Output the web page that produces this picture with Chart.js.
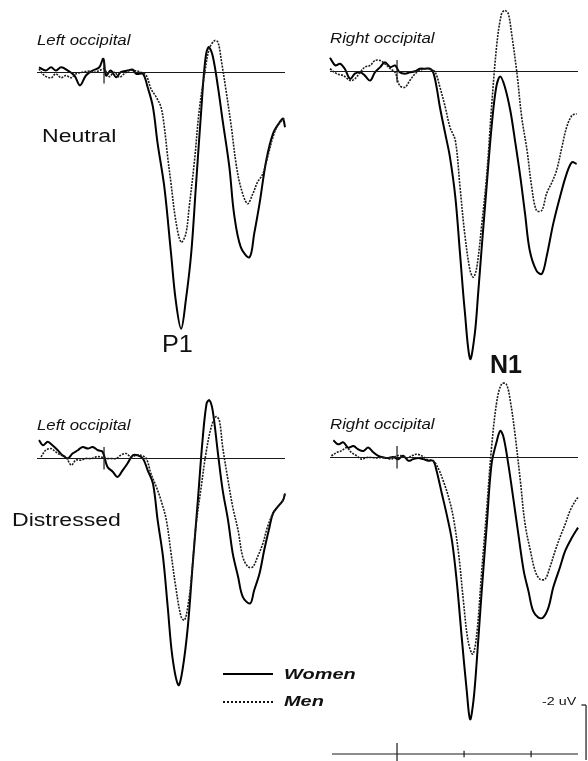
<!DOCTYPE html>
<html>
<head>
<meta charset="utf-8">
<script src="https://cdn.jsdelivr.net/npm/chart.js@4"></script>
<style>
  html, body { margin: 0; padding: 0; background: #fff; }
  body { width: 588px; height: 761px; position: relative; overflow: hidden; font-family: "Liberation Sans", Arial, sans-serif; color: #111; }
  canvas { position: absolute; }
  .lbl { position: absolute; white-space: nowrap; transform-origin: left center; line-height: 1; }
  .site { font-style: italic; font-size: 15px; transform: scaleX(1.12); }
  .cond { font-size: 18px; transform: scaleX(1.28); }
  .leg { font-style: italic; font-weight: bold; font-size: 15px; transform: scaleX(1.33); }
  .swatch { position: absolute; width: 50px; height: 0; }
</style>
</head>
<body>
<canvas id="tl"></canvas>
<canvas id="tr"></canvas>
<canvas id="bl"></canvas>
<canvas id="br"></canvas>
<canvas id="scale"></canvas>

<div class="lbl site" style="left:37px; top:32px;">Left occipital</div>
<div class="lbl site" style="left:330px; top:30px;">Right occipital</div>
<div class="lbl site" style="left:37px; top:417px;">Left occipital</div>
<div class="lbl site" style="left:330px; top:416px;">Right occipital</div>
<div class="lbl cond" style="left:42px; top:127px;">Neutral</div>
<div class="lbl cond" style="left:12px; top:511px;">Distressed</div>
<div class="lbl" style="left:162px; top:333px; font-size:23px; transform:scaleX(1.1);">P1</div>
<div class="lbl" style="left:490px; top:352px; font-size:25px; font-weight:bold;">N1</div>
<div class="swatch" style="left:223px; top:673px; border-top:2px solid #000;"></div>
<div class="swatch" style="left:223px; top:701px; border-top:2px dotted #111;"></div>
<div class="lbl leg" style="left:284px; top:666px;">Women</div>
<div class="lbl leg" style="left:284px; top:693px;">Men</div>
<div class="lbl" style="left:542px; top:696px; font-size:11px; transform:scaleX(1.3);">-2 uV</div>

<script>
// time in ms, amplitude in uV (negative drawn upwards)
const epoch = [-100, 270];
const ampRange = [-3, 11];

// Neutral, left occipital
const tlWomen = [[-97,-0.19],[-87,-0.07],[-79,-0.19],[-72,-0.07],[-64,-0.19],[-54,-0.07],[-44,0.11],[-36,0.47],[-27,0.11],[-17,-0.07],[-7,-0.19],[-1,-0.5],[3,0.11],[10,-0.07],[18,0.17],[25,-0.01],[35,-0.07],[43,-0.1],[48,0.05],[58,0.05],[65,0.53],[73,1.26],[80,2.59],[90,4.17],[100,6.59],[107,8.29],[115,9.32],[122,8.29],[130,6.59],[137,4.17],[145,1.38],[151,-0.44],[156,-0.92],[162,-0.62],[170,0.53],[177,1.75],[187,3.44],[194,5.14],[204,6.35],[217,6.72],[224,5.87],[232,4.77],[242,3.2],[252,2.23],[262,1.81],[267,1.68],[270,1.99]];
const tlMen = [[-97,-0.13],[-89,0.11],[-79,0.19],[-72,0.05],[-64,0.19],[-57,0.11],[-49,0.19],[-42,0.05],[-32,-0.01],[-22,-0.05],[-14,-0.01],[-7,-0.07],[0,-0.13],[8,0.15],[15,-0.01],[23,0.17],[30,0.05],[38,-0.07],[45,-0.07],[55,-0.01],[63,0.11],[70,0.59],[78,0.9],[85,1.26],[90,1.99],[95,3.08],[100,4.05],[107,5.38],[115,6.17],[122,5.87],[127,4.9],[135,3.2],[142,1.38],[150,0.05],[157,-0.86],[165,-1.16],[170,-1.1],[175,-0.44],[182,0.65],[190,1.99],[197,3.32],[204,4.17],[214,4.77],[222,4.41],[229,3.99],[237,3.68],[244,3.08],[252,2.35],[259,1.93],[269,1.65]];

// Neutral, right occipital
const trWomen = [[-100,-0.5],[-92,-0.22],[-85,-0.28],[-78,-0.1],[-70,0.27],[-63,0.08],[-55,0.03],[-48,0.15],[-40,0.33],[-33,0.03],[-25,-0.16],[-18,-0.34],[-10,-0.16],[-3,-0.22],[4,0.03],[12,0.08],[19,0.03],[27,-0.01],[34,-0.1],[42,-0.1],[49,-0.1],[54,0.03],[59,0.57],[64,1.3],[72,2.27],[79,3.12],[87,4.57],[94,6.63],[101,8.69],[109,10.45],[116,9.54],[121,8.08],[126,6.51],[134,4.08],[141,2.03],[148,0.57],[154,0.18],[161,0.57],[169,1.42],[176,2.51],[184,3.84],[191,5.17],[198,6.51],[208,7.24],[216,7.36],[223,6.75],[233,5.54],[243,4.57],[253,3.72],[261,3.3],[268,3.36]];
const trMen = [[-100,-0.1],[-90,0.08],[-80,0.15],[-70,0.33],[-63,0.27],[-55,0.03],[-48,-0.16],[-40,-0.22],[-33,-0.4],[-25,-0.4],[-18,-0.28],[-10,-0.1],[-3,0.03],[4,0.51],[12,0.57],[19,0.33],[27,0.08],[34,-0.04],[42,-0.1],[49,-0.1],[57,0.03],[64,0.57],[72,1.3],[79,2.03],[87,2.51],[94,4.21],[101,5.9],[109,7.24],[114,7.48],[119,7.12],[126,5.66],[134,3.72],[141,1.3],[149,-1.01],[156,-2.1],[161,-2.22],[166,-2.1],[171,-1.37],[179,0.08],[186,1.66],[194,2.87],[201,4.21],[208,5.05],[216,5.05],[223,4.45],[231,4.03],[238,3.6],[246,2.75],[253,2.03],[261,1.6],[268,1.54]];

// Distressed, left occipital
const blWomen = [[-97,-0.67],[-91,-0.48],[-84,-0.61],[-77,-0.48],[-69,-0.3],[-62,-0.12],[-54,0],[-47,-0.18],[-39,-0.3],[-32,-0.42],[-24,-0.36],[-17,-0.42],[-9,-0.3],[-2,-0.24],[5,0.3],[13,0.48],[20,0.67],[28,0.42],[35,0.18],[43,-0.12],[50,-0.12],[58,0],[65,0.42],[73,0.91],[80,2.24],[88,3.58],[95,5.39],[102,7.21],[111,8.24],[117,7.7],[125,6.12],[132,3.94],[140,1.52],[147,-0.67],[153,-2.0],[157,-2.12],[162,-1.76],[170,-0.18],[177,1.15],[185,2.24],[192,3.45],[200,4.3],[207,5.03],[218,5.27],[224,4.79],[232,4.18],[239,3.33],[247,2.48],[252,2.0],[259,1.76],[267,1.52],[270,1.27]];
const blMen = [[-94,-0.06],[-87,-0.3],[-79,-0.36],[-72,-0.24],[-64,-0.12],[-57,-0.06],[-49,0.24],[-42,0.06],[-34,0.06],[-27,0],[-19,0],[-12,-0.06],[-5,-0.06],[3,0],[10,0],[18,0],[25,-0.12],[33,-0.18],[40,-0.06],[48,-0.12],[55,-0.12],[63,0],[70,0.55],[78,1.03],[85,1.52],[93,2.24],[100,3.45],[107,4.67],[115,5.76],[120,5.88],[125,5.39],[130,4.42],[137,2.48],[145,1.03],[152,-0.18],[160,-1.15],[167,-1.52],[172,-1.39],[177,-0.42],[185,0.79],[192,1.76],[200,2.61],[207,3.58],[215,3.94],[222,3.94],[229,3.58],[237,3.09],[244,2.48],[252,2.0],[259,1.76],[267,1.52],[270,1.27]];

// Distressed, right occipital
const brWomen = [[-95,-0.63],[-88,-0.48],[-80,-0.55],[-73,-0.36],[-65,-0.42],[-58,-0.3],[-50,-0.24],[-43,-0.36],[-35,-0.18],[-28,-0.06],[-20,0],[-13,0.02],[-6,-0.02],[2,0.06],[9,-0.06],[17,0.12],[24,0.06],[32,0.02],[39,0.06],[47,0.12],[54,0.12],[59,0.48],[67,1.33],[74,2.06],[82,3.03],[89,4.48],[97,6.67],[104,8.48],[109,9.52],[114,8.85],[119,7.39],[126,4.97],[134,2.42],[141,0.24],[149,-0.61],[154,-0.97],[159,-0.73],[166,0.24],[174,1.58],[181,2.79],[189,4.12],[196,4.85],[203,5.58],[211,5.82],[218,5.82],[226,5.45],[233,4.73],[243,4.0],[251,3.39],[261,2.91],[270,2.55]];
const brMen = [[-98,-0.06],[-90,-0.18],[-83,-0.24],[-75,-0.36],[-68,-0.18],[-60,-0.06],[-53,0.06],[-45,0],[-38,0],[-30,0.02],[-23,0],[-15,0.02],[-8,0.06],[-1,-0.06],[7,-0.06],[15,0.02],[22,-0.06],[29,-0.12],[37,-0.06],[44,0.06],[54,0.12],[62,0.42],[69,0.85],[77,1.45],[84,2.18],[92,3.52],[99,5.21],[106,6.67],[113,7.15],[119,6.42],[126,4.24],[134,1.82],[141,-0.36],[149,-2.06],[156,-2.67],[163,-2.67],[169,-2.06],[176,-0.85],[184,0.85],[191,2.42],[199,3.39],[206,4.12],[213,4.42],[221,4.42],[228,4.0],[236,3.39],[243,2.91],[251,2.42],[258,1.94],[266,1.58],[270,1.45]];

// scale bar and time axis (ms ticks every 100)
const timeTicks = [0, 100, 200];
const scaleBarUv = [-2, 0];

const PX_PER_UV = 27.5;
const PAD = 10;
const PANEL_W = 248;

const toXY = pts => pts.map(p => ({ x: p[0], y: p[1] }));

function segment(x1, y1, x2, y2, width) {
    return {
        data: [{ x: x1, y: y1 }, { x: x2, y: y2 }],
        borderColor: '#1a1a1a',
        borderWidth: width || 1.2,
        pointRadius: 0,
        tension: 0,
        clip: false
    };
}

function placeCanvas(id, left, top, height) {
    const c = document.getElementById(id);
    c.width = PANEL_W + 2 * PAD;
    c.height = height;
    c.style.left = (left - PAD) + 'px';
    c.style.top = top + 'px';
    c.style.width = c.width + 'px';
    c.style.height = height + 'px';
    return c;
}

function baseOptions(yMin, yMax) {
    return {
        responsive: false,
        animation: false,
        events: [],
        layout: { padding: { left: PAD, right: PAD, top: 0, bottom: 0 } },
        scales: {
            x: { type: 'linear', min: epoch[0], max: epoch[1], display: false },
            y: { type: 'linear', min: yMin, max: yMax, reverse: true, display: false }
        },
        plugins: { legend: { display: false }, tooltip: { enabled: false } }
    };
}

function makePanel(id, left, baselineY, women, men) {
    const top = baselineY - (0 - ampRange[0]) * PX_PER_UV;
    const height = (ampRange[1] - ampRange[0]) * PX_PER_UV;
    const c = placeCanvas(id, left, top, height);
    new Chart(c.getContext('2d'), {
        type: 'line',
        data: {
            datasets: [
                segment(epoch[0], 0, epoch[1], 0, 1.2),
                segment(0, -0.42, 0, 0.4, 1.2),
                {
                    label: 'Men',
                    data: toXY(men),
                    borderColor: '#1c1c1c',
                    borderWidth: 1.6,
                    borderDash: [2, 1.2],
                    pointRadius: 0,
                    tension: 0.35,
                    clip: false
                },
                {
                    label: 'Women',
                    data: toXY(women),
                    borderColor: '#000',
                    borderWidth: 2,
                    pointRadius: 0,
                    tension: 0.35,
                    clip: false
                }
            ]
        },
        options: baseOptions(ampRange[0], ampRange[1])
    });
}

makePanel('tl', 37, 72, tlWomen, tlMen);
makePanel('tr', 330, 71, trWomen, trMen);
makePanel('bl', 37, 458, blWomen, blMen);
makePanel('br', 330, 457, brWomen, brMen);

// calibration: -2 uV bar at the right, time axis underneath
const sTop = 690, sHeight = 71;
const sMin = scaleBarUv[0] - 15 / PX_PER_UV;
const sMax = sMin + sHeight / PX_PER_UV;
const axisY = sMin + 64 / PX_PER_UV;
const barX = 282;
const scaleSets = [
    segment(-97, axisY, epoch[1], axisY, 1.2),
    segment(timeTicks[0], axisY - 0.4, timeTicks[0], sMax, 1.2),
    segment(barX, scaleBarUv[0], barX, scaleBarUv[1], 1.2),
    segment(barX - 7, scaleBarUv[0], barX, scaleBarUv[0], 1.2)
];
timeTicks.slice(1).forEach(t => scaleSets.push(segment(t, axisY - 0.12, t, axisY + 0.12, 1.2)));

new Chart(placeCanvas('scale', 330, sTop, sHeight).getContext('2d'), {
    type: 'line',
    data: { datasets: scaleSets },
    options: baseOptions(sMin, sMax)
});
</script>
</body>
</html>
